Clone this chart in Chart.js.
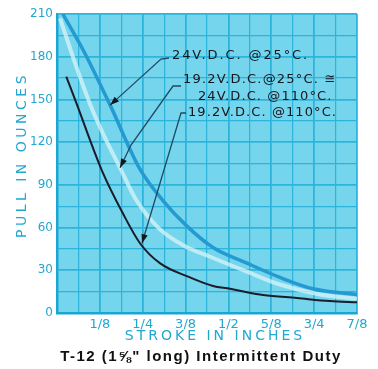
<!DOCTYPE html>
<html>
<head>
<meta charset="utf-8">
<script src="https://cdn.jsdelivr.net/npm/chart.js@4.4.1/dist/chart.umd.min.js"></script>
<style>
  html, body { margin: 0; padding: 0; background: #fff; }
  #wrap { width: 378px; height: 369px; }
</style>
</head>
<body>
<div id="wrap"><canvas id="chart"></canvas></div>
<script>
// stroke (inches) vs pull (ounces)
const v24c25X = [0.017, 0.08, 0.155, 0.242, 0.309, 0.379, 0.455, 0.554, 0.650, 0.747, 0.875];
const v24c25Y = [210, 183, 146, 101, 79, 61, 46, 35, 25, 17, 13];

const v19c25X = [0.009, 0.052, 0.096, 0.140, 0.184, 0.227, 0.295, 0.365, 0.452, 0.554, 0.650, 0.767, 0.875];
const v19c25Y = [207, 176, 147, 123, 102, 81, 60, 48, 39, 29, 20, 13, 10];

const v19c110X = [0.027, 0.0525, 0.131, 0.192, 0.242, 0.300, 0.388, 0.455, 0.505, 0.554, 0.601, 0.700, 0.796, 0.875];
const v19c110Y = [166, 150, 100, 70, 49, 35, 25, 19, 17, 14.5, 12.6, 10.5, 8.4, 7.5];

const xTickLabels = ['', '1/8', '1/4', '3/8', '1/2', '5/8', '3/4', '7/8'];
const yTickLabels = ['0', '30', '60', '90', '120', '150', '180', '210'];

const noteTexts = ['24V.D.C. @25°C.', '19.2V.D.C.@25°C. ≅', '24V.D.C. @110°C.', '19.2V.D.C. @110°C.'];
// arrow tips in data units (stroke, pull)
const noteTips = [[0.155, 146], [0.184, 102], null, [0.248, 49]];

const toPoints = (xs, ys) => xs.map((x, i) => ({ x, y: ys[i] }));

const CYAN_TEXT = '#22a7d0';
const INK = '#15171f';

const notes = [
  { x: 172, y: 56, sp: 1.9, path: [[169, 58], [161, 59]] },
  { x: 183, y: 80, sp: 1.2, path: [[181, 86], [173, 86], [131, 145]] },
  { x: 198, y: 97, sp: 1.1 },
  { x: 188, y: 113, sp: 1.1, path: [[186, 113], [181, 113]] },
];

const chartDecor = {
  id: 'chartDecor',
  beforeDraw(chart) {
    const { ctx, chartArea: a } = chart;
    ctx.save();
    ctx.fillStyle = '#74d5ec';
    ctx.fillRect(a.left, a.top, a.right - a.left, a.bottom - a.top);
    ctx.restore();
  },
  afterDraw(chart) {
    const { ctx, scales } = chart;
    const xs = scales.x;
    const ys = scales.y;
    ctx.save();

    // axis titles
    ctx.fillStyle = CYAN_TEXT;
    ctx.textBaseline = 'middle';
    ctx.textAlign = 'center';
    ctx.font = '14px "DejaVu Sans"';
    ctx.letterSpacing = '3px';
    ctx.fillText('STROKE IN INCHES', 215, 336);

    ctx.save();
    ctx.translate(22, 155);
    ctx.rotate(-Math.PI / 2);
    ctx.letterSpacing = '3.5px';
    ctx.fillText('PULL IN OUNCES', 0, 0);
    ctx.restore();

    // caption
    ctx.fillStyle = '#111';
    ctx.font = 'bold 15px "Liberation Sans"';
    ctx.letterSpacing = '1.5px';
    ctx.fillText('T-12 (1⅝" long) Intermittent Duty', 201, 357);

    // curve labels
    ctx.font = '13px "DejaVu Sans"';
    ctx.textAlign = 'left';
    notes.forEach((n, i) => {
      ctx.fillStyle = INK;
      ctx.letterSpacing = n.sp + 'px';
      ctx.fillText(noteTexts[i], n.x, n.y);
      const tip = noteTips[i];
      if (!tip || !n.path) return;
      const tx = xs.getPixelForValue(tip[0]);
      const ty = ys.getPixelForValue(tip[1]);
      ctx.strokeStyle = '#1f4a66';
      ctx.lineWidth = 1.3;
      ctx.beginPath();
      ctx.moveTo(n.path[0][0], n.path[0][1]);
      n.path.slice(1).forEach((p) => ctx.lineTo(p[0], p[1]));
      ctx.lineTo(tx, ty);
      ctx.stroke();

      const last = n.path[n.path.length - 1];
      const ang = Math.atan2(ty - last[1], tx - last[0]);
      const len = 9;
      const half = 3.2;
      const bx = tx - len * Math.cos(ang);
      const by = ty - len * Math.sin(ang);
      ctx.beginPath();
      ctx.moveTo(tx, ty);
      ctx.lineTo(bx + half * Math.sin(ang), by - half * Math.cos(ang));
      ctx.lineTo(bx - half * Math.sin(ang), by + half * Math.cos(ang));
      ctx.closePath();
      ctx.fill();
    });

    ctx.restore();
  },
};

new Chart(document.getElementById('chart'), {
  type: 'line',
  data: {
    datasets: [
      {
        label: '24V.D.C. @25°C.',
        data: toPoints(v24c25X, v24c25Y),
        borderColor: '#239bd2',
        borderWidth: 3.5,
        pointRadius: 0,
        cubicInterpolationMode: 'monotone',
        order: 2,
      },
      {
        label: '19.2V.D.C.@25°C. ≅ 24V.D.C. @110°C.',
        data: toPoints(v19c25X, v19c25Y),
        borderColor: 'rgba(225, 246, 250, 0.7)',
        borderWidth: 4,
        pointRadius: 0,
        cubicInterpolationMode: 'monotone',
        order: 3,
      },
      {
        label: '19.2V.D.C. @110°C.',
        data: toPoints(v19c110X, v19c110Y),
        borderColor: '#1a1c2a',
        borderWidth: 2,
        pointRadius: 0,
        cubicInterpolationMode: 'monotone',
        order: 1,
      },
    ],
  },
  options: {
    responsive: true,
    maintainAspectRatio: false,
    animation: false,
    events: [],
    layout: { padding: { top: 14, right: 21, left: 0, bottom: 0 } },
    plugins: {
      legend: { display: false },
      tooltip: { enabled: false },
    },
    scales: {
      x: {
        type: 'linear',
        min: 0,
        max: 0.875,
        afterFit: (s) => { s.height = 56; },
        border: { color: '#1aa6d2', width: 2.5 },
        grid: {
          drawTicks: false,
          color: '#2cb4da',
          lineWidth: (c) => (c.tick && Math.abs(c.tick.value / 0.125 - Math.round(c.tick.value / 0.125)) < 1e-6 ? 1.8 : 1.2),
        },
        ticks: {
          stepSize: 0.0625,
          autoSkip: false,
          maxRotation: 0,
          padding: 4,
          color: CYAN_TEXT,
          font: { family: 'DejaVu Sans', size: 13 },
          callback: (v) => {
            const k = Math.round(v / 0.125);
            return Math.abs(v - k * 0.125) < 1e-6 ? xTickLabels[k] : '';
          },
        },
      },
      y: {
        type: 'linear',
        min: 0,
        max: 210,
        afterFit: (s) => { s.width = 57; },
        border: { color: '#1aa6d2', width: 2.5 },
        grid: {
          drawTicks: false,
          color: '#2cb4da',
          lineWidth: (c) => (c.tick && c.tick.value % 30 === 0 ? 1.8 : 1.2),
        },
        ticks: {
          stepSize: 15,
          autoSkip: false,
          padding: 4,
          color: CYAN_TEXT,
          font: { family: 'DejaVu Sans', size: 12 },
          callback: (v) => (v % 30 === 0 ? yTickLabels[v / 30] : ''),
        },
      },
    },
  },
  plugins: [chartDecor],
});
</script>
</body>
</html>
